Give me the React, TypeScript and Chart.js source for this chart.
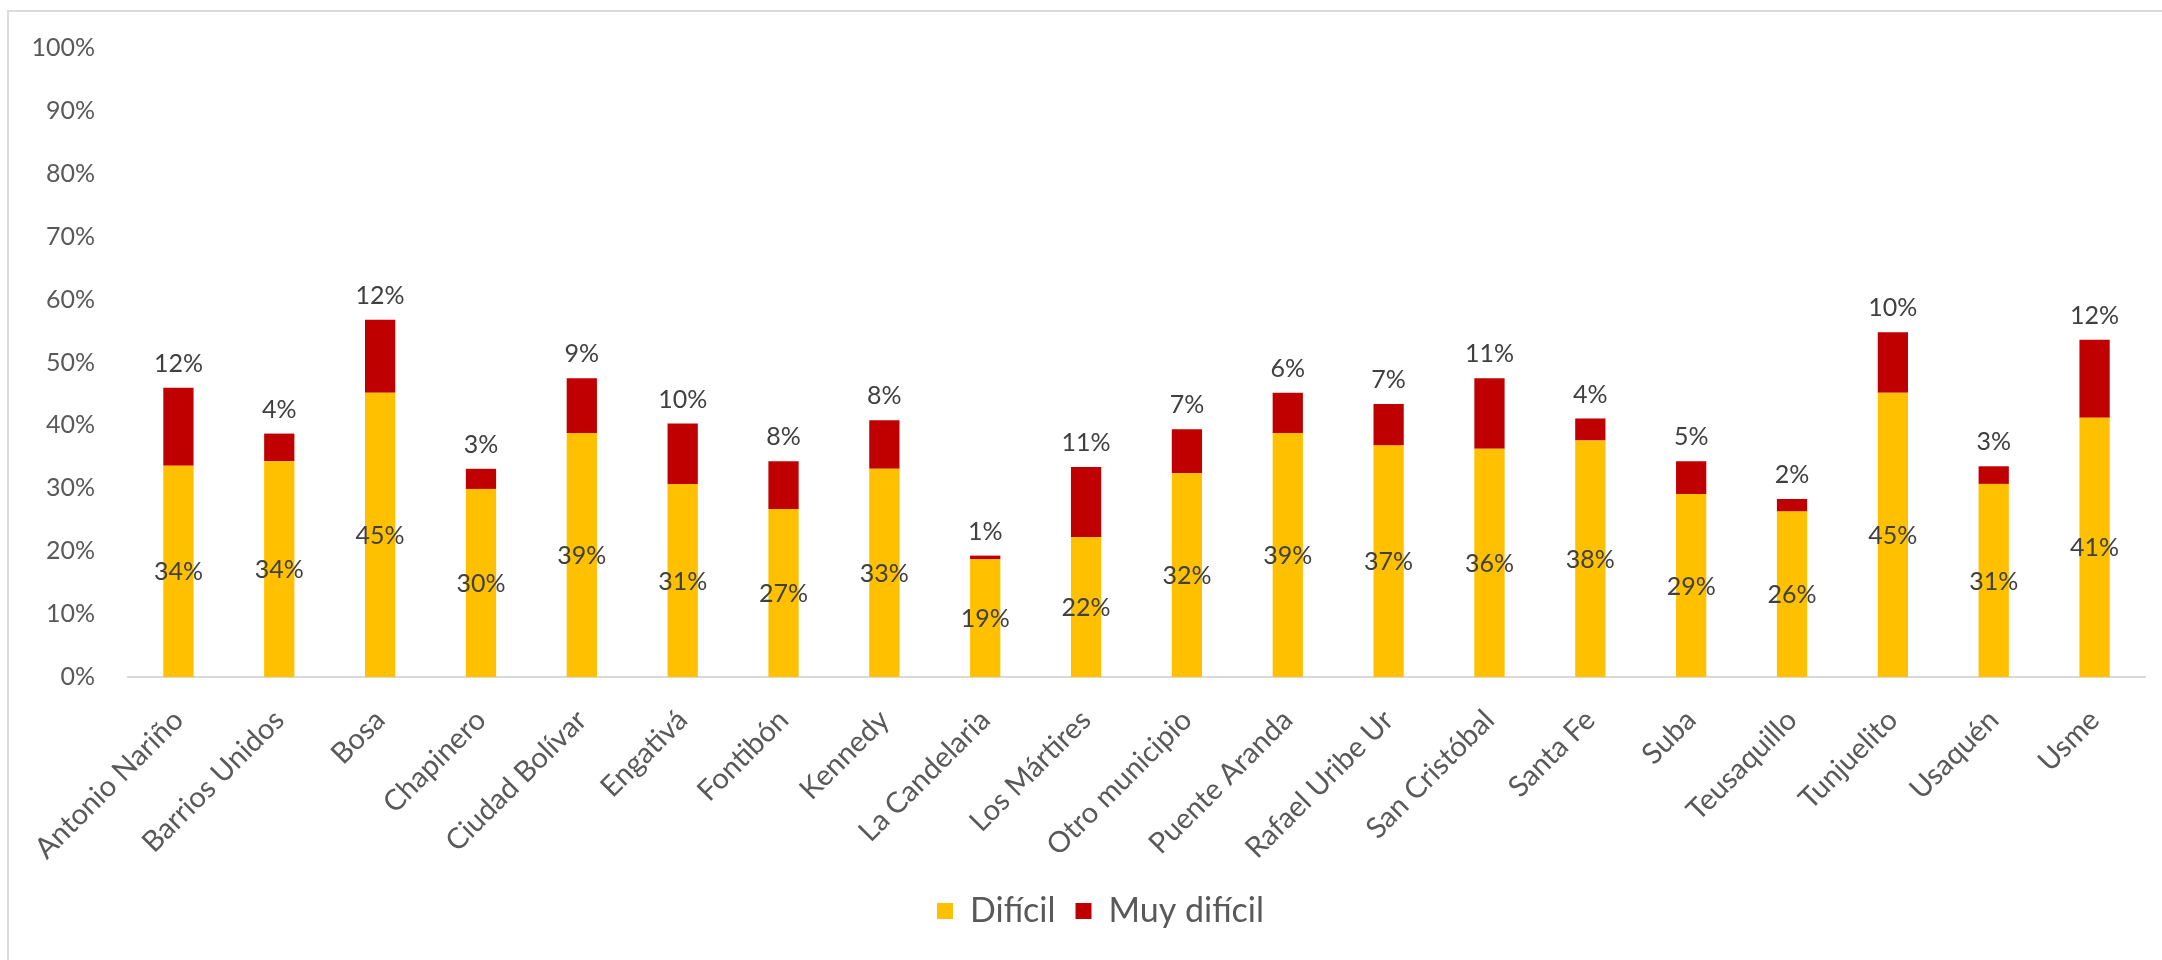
import React, { useEffect, useRef } from "react";
import { Chart, registerables } from "chart.js";

Chart.register(...registerables);

const categories = [
  "Antonio Nariño",
  "Barrios Unidos",
  "Bosa",
  "Chapinero",
  "Ciudad Bolívar",
  "Engativá",
  "Fontibón",
  "Kennedy",
  "La Candelaria",
  "Los Mártires",
  "Otro municipio",
  "Puente Aranda",
  "Rafael Uribe Ur",
  "San Cristóbal",
  "Santa Fe",
  "Suba",
  "Teusaquillo",
  "Tunjuelito",
  "Usaquén",
  "Usme",
];

const dificil = [
  33.6, 34.3, 45.2, 29.9, 38.8, 30.7, 26.7, 33.1, 18.7, 22.2, 32.4, 38.8, 36.8,
  36.3, 37.6, 29.1, 26.3, 45.2, 30.7, 41.2,
];

const muyDificil = [
  12.4, 4.4, 11.6, 3.2, 8.7, 9.6, 7.6, 7.7, 0.6, 11.2, 7.0, 6.4, 6.6, 11.2, 3.5,
  5.2, 2.0, 9.6, 2.8, 12.4,
];

const seriesNames = ["Difícil", "Muy difícil"];
const seriesColors = ["#FFC000", "#C00000"];

const FONT = "Lato";

const barLabels = {
  id: "barLabels",
  afterDatasetsDraw(chart: any) {
    const ctx = chart.ctx;
    ctx.save();
    ctx.font = `25px ${FONT}`;
    ctx.fillStyle = "#404040";
    ctx.textAlign = "center";
    ctx.textBaseline = "middle";
    chart.data.datasets.forEach((ds: any, i: number) => {
      const meta = chart.getDatasetMeta(i);
      meta.data.forEach((bar: any, j: number) => {
        const v = ds.data[j] as number;
        const txt = Math.round(v) + "%";
        if (i === 0) {
          ctx.fillText(txt, bar.x, (bar.y + bar.base) / 2 + 1);
        } else {
          ctx.fillText(txt, bar.x, bar.y - 24);
        }
      });
    });
    ctx.restore();
  },
};

const legendShift = {
  id: "legendShift",
  afterLayout(chart: any) {
    const lg = chart.legend;
    if (lg) {
      lg.left += 28;
      lg.right += 28;
    }
  },
};

export default function App() {
  const ref = useRef<HTMLCanvasElement | null>(null);

  useEffect(() => {
    if (!ref.current) return;
    const chart = new Chart(ref.current, {
      type: "bar",
      data: {
        labels: categories,
        datasets: [
          {
            label: seriesNames[0],
            data: dificil,
            backgroundColor: seriesColors[0],
            categoryPercentage: 1,
            barPercentage: 0.3,
          },
          {
            label: seriesNames[1],
            data: muyDificil,
            backgroundColor: seriesColors[1],
            categoryPercentage: 1,
            barPercentage: 0.3,
          },
        ],
      },
      options: {
        responsive: false,
        animation: false,
        layout: { padding: { top: 48, right: 17, left: 0, bottom: 22 } },
        scales: {
          x: {
            stacked: true,
            grid: { display: false, drawTicks: false },
            border: { display: true, color: "#d9d9d9", width: 2 },
            ticks: {
              minRotation: 45,
              maxRotation: 45,
              autoSkip: false,
              padding: 26,
              color: "#595959",
              font: { family: FONT, size: 29 },
            },
            afterFit: (s: any) => {
              s.height = 197;
            },
          },
          y: {
            stacked: true,
            min: 0,
            max: 100,
            grid: { display: false, drawTicks: false },
            border: { display: false },
            ticks: {
              stepSize: 10,
              padding: 33,
              color: "#595959",
              font: { family: FONT, size: 25 },
              callback: (v: any) => v + "%",
            },
            afterFit: (s: any) => {
              s.width = 128;
            },
          },
        },
        plugins: {
          legend: {
            position: "bottom",
            labels: {
              color: "#595959",
              font: { family: FONT, size: 34 },
              boxWidth: 16,
              boxHeight: 16,
              padding: 20,
            },
          },
          tooltip: { enabled: false },
        },
      },
      plugins: [barLabels, legendShift],
    });
    return () => chart.destroy();
  }, []);

  return (
    <div
      style={{
        position: "fixed",
        left: 0,
        top: 0,
        width: 2162,
        height: 960,
        background: "#ffffff",
      }}
    >
      <div
        style={{
          position: "absolute",
          left: 7,
          top: 10,
          right: 0,
          bottom: 0,
          borderLeft: "2px solid #dcdcdc",
          borderTop: "2px solid #dcdcdc",
        }}
      />
      <canvas
        ref={ref}
        width={2162}
        height={960}
        style={{ position: "absolute", left: 0, top: 0 }}
      />
    </div>
  );
}
